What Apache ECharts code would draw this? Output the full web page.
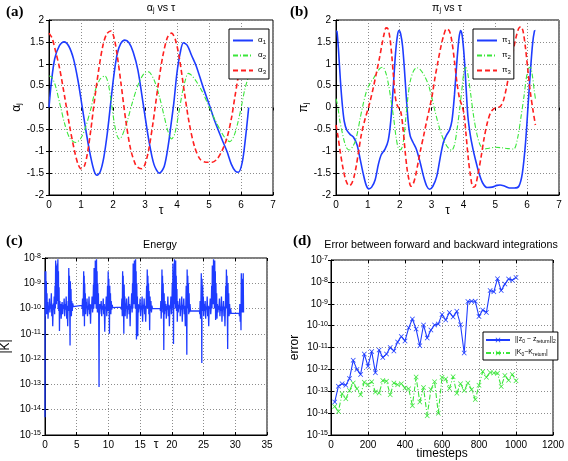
<!DOCTYPE html>
<html><head><meta charset="utf-8">
<script src="https://cdn.jsdelivr.net/npm/echarts/dist/echarts.min.js"></script>
<style>html,body{margin:0;padding:0;background:#fff}#c{width:568px;height:461px}</style>
</head><body><div id="c"></div>
<script>
// ---------- data ----------
const alpha1 = [[0,0],[0.07,0.55],[0.18,1.12],[0.33,1.42],[0.47,1.5],[0.62,1.4],[0.77,1.1],[0.91,0.6],[1.04,0],[1.17,-0.6],[1.3,-1.12],[1.41,-1.45],[1.5,-1.55],[1.6,-1.47],[1.71,-1.15],[1.82,-0.6],[1.92,0.05],[2.03,0.75],[2.13,1.22],[2.24,1.46],[2.37,1.54],[2.5,1.48],[2.63,1.27],[2.78,0.85],[2.95,0.05],[3.12,-0.75],[3.28,-1.3],[3.45,-1.5],[3.6,-1.35],[3.73,-0.85],[3.82,-0.35],[3.9,0.1],[4.0,0.8],[4.1,1.25],[4.2,1.48],[4.32,1.42],[4.45,1.2],[4.6,0.95],[4.8,0.5],[5.0,0.08],[5.2,-0.35],[5.4,-0.72],[5.56,-1.0],[5.7,-1.3],[5.82,-1.45],[5.92,-1.48],[6.04,-1.25],[6.14,-0.7],[6.24,0]];
const alpha2 = [[0,0.72],[0.08,0.7],[0.2,0.5],[0.35,0.05],[0.5,-0.4],[0.65,-0.7],[0.83,-0.8],[0.98,-0.72],[1.12,-0.5],[1.3,-0.05],[1.45,0.4],[1.6,0.65],[1.75,0.72],[1.85,0.55],[1.95,0.1],[2.05,-0.4],[2.13,-0.65],[2.2,-0.72],[2.3,-0.62],[2.45,-0.3],[2.6,0.1],[2.75,0.45],[2.9,0.7],[3.05,0.82],[3.15,0.8],[3.3,0.6],[3.45,0.25],[3.6,-0.2],[3.72,-0.55],[3.83,-0.72],[3.93,-0.6],[4.05,-0.15],[4.17,0.35],[4.27,0.65],[4.35,0.78],[4.45,0.74],[4.6,0.6],[4.8,0.35],[5.0,0.02],[5.2,-0.3],[5.4,-0.58],[5.55,-0.74],[5.65,-0.78],[5.78,-0.65],[5.9,-0.35],[6.02,0.05],[6.12,0.42],[6.24,0.72]];
const alpha3 = [[0,1.7],[0.1,1.58],[0.2,1.3],[0.33,0.9],[0.5,0.2],[0.65,-0.45],[0.8,-1.0],[0.9,-1.28],[1.0,-1.4],[1.1,-1.35],[1.2,-1.05],[1.3,-0.55],[1.42,0.15],[1.55,0.85],[1.68,1.4],[1.8,1.68],[1.93,1.75],[2.03,1.6],[2.13,1.2],[2.25,0.55],[2.4,-0.3],[2.55,-0.95],[2.7,-1.3],[2.8,-1.38],[2.9,-1.4],[3.0,-1.3],[3.12,-0.95],[3.25,-0.35],[3.4,0.45],[3.55,1.15],[3.7,1.6],[3.83,1.7],[3.95,1.55],[4.08,1.1],[4.22,0.4],[4.38,-0.35],[4.55,-0.9],[4.72,-1.18],[4.9,-1.25],[5.1,-1.25],[5.25,-1.18],[5.4,-1.0],[5.56,-0.7],[5.7,-0.25],[5.8,0.2],[5.9,0.65],[6.0,1.05],[6.12,1.45],[6.24,1.7]];
const pi1 = [[0,1.75],[0.03,1.74],[0.08,1.3],[0.14,0.6],[0.2,0.05],[0.26,-0.32],[0.34,-0.52],[0.45,-0.62],[0.55,-0.68],[0.66,-0.85],[0.75,-1.15],[0.85,-1.5],[0.95,-1.78],[1.03,-1.86],[1.12,-1.82],[1.23,-1.65],[1.33,-1.3],[1.42,-1.08],[1.54,-0.95],[1.64,-0.75],[1.72,-0.3],[1.8,0.5],[1.87,1.25],[1.93,1.65],[1.98,1.76],[2.03,1.68],[2.09,1.4],[2.15,0.85],[2.21,0.2],[2.27,-0.35],[2.33,-0.65],[2.42,-0.8],[2.52,-0.95],[2.64,-1.25],[2.75,-1.58],[2.85,-1.8],[2.94,-1.87],[3.04,-1.8],[3.16,-1.58],[3.27,-1.15],[3.37,-0.8],[3.47,-0.63],[3.56,-0.52],[3.64,-0.3],[3.72,0.3],[3.8,1.1],[3.86,1.58],[3.91,1.76],[3.96,1.65],[4.02,1.2],[4.08,0.5],[4.14,-0.2],[4.22,-0.65],[4.3,-0.95],[4.38,-1.2],[4.48,-1.48],[4.6,-1.72],[4.75,-1.83],[4.9,-1.82],[5.05,-1.78],[5.15,-1.77],[5.3,-1.8],[5.45,-1.84],[5.6,-1.84],[5.74,-1.8],[5.85,-1.5],[5.95,-0.8],[6.03,0.05],[6.1,0.8],[6.17,1.45],[6.23,1.75],[6.26,1.76]];
const pi2 = [[0,0.2],[0.05,0.05],[0.12,-0.3],[0.19,-0.55],[0.27,-0.8],[0.34,-0.93],[0.43,-0.97],[0.52,-0.9],[0.6,-0.78],[0.68,-0.55],[0.76,-0.24],[0.86,0.1],[0.97,0.4],[1.08,0.57],[1.18,0.67],[1.28,0.8],[1.39,0.9],[1.47,0.92],[1.56,0.8],[1.65,0.52],[1.73,0.15],[1.81,-0.24],[1.88,-0.65],[1.95,-0.92],[2.01,-0.97],[2.07,-0.92],[2.13,-0.7],[2.19,-0.25],[2.26,0.25],[2.33,0.6],[2.43,0.83],[2.53,0.91],[2.65,0.86],[2.78,0.72],[2.9,0.52],[3.0,0.25],[3.11,-0.09],[3.22,-0.4],[3.32,-0.63],[3.43,-0.82],[3.53,-0.93],[3.63,-0.98],[3.72,-0.85],[3.8,-0.5],[3.88,-0.05],[3.95,0.4],[4.01,0.78],[4.07,0.92],[4.13,0.8],[4.22,0.35],[4.32,-0.2],[4.42,-0.6],[4.52,-0.85],[4.64,-0.95],[4.8,-0.93],[5.0,-0.91],[5.2,-0.92],[5.4,-0.94],[5.58,-0.95],[5.7,-0.7],[5.8,-0.25],[5.9,0.25],[5.98,0.7],[6.05,0.9],[6.1,0.92],[6.17,0.7],[6.22,0.4],[6.26,0.2]];
const pi3 = [[0,-0.4],[0.06,-0.65],[0.13,-1.0],[0.21,-1.35],[0.29,-1.62],[0.36,-1.75],[0.42,-1.79],[0.49,-1.74],[0.56,-1.6],[0.64,-1.32],[0.71,-1.0],[0.8,-0.6],[0.92,-0.24],[1.0,-0.05],[1.07,0.14],[1.17,0.45],[1.28,0.83],[1.37,1.15],[1.44,1.43],[1.51,1.68],[1.57,1.82],[1.63,1.8],[1.69,1.6],[1.75,1.2],[1.8,0.75],[1.86,0.25],[1.92,0.05],[1.98,-0.02],[2.04,-0.12],[2.1,-0.45],[2.17,-1.0],[2.23,-1.4],[2.29,-1.65],[2.35,-1.8],[2.42,-1.75],[2.5,-1.55],[2.58,-1.25],[2.66,-0.95],[2.75,-0.65],[2.85,-0.3],[2.94,0.0],[3.02,0.28],[3.1,0.65],[3.2,1.05],[3.29,1.38],[3.37,1.62],[3.47,1.8],[3.56,1.75],[3.64,1.5],[3.72,1.05],[3.8,0.55],[3.88,0.2],[3.95,0.05],[4.02,-0.15],[4.08,-0.6],[4.15,-1.15],[4.22,-1.55],[4.3,-1.82],[4.37,-1.8],[4.45,-1.55],[4.55,-1.15],[4.65,-0.7],[4.75,-0.35],[4.85,-0.12],[4.95,-0.03],[5.05,0.0],[5.15,0.02],[5.25,0.15],[5.35,0.45],[5.45,0.85],[5.55,1.25],[5.65,1.6],[5.73,1.8],[5.8,1.85],[5.87,1.75],[5.95,1.35],[6.03,0.8],[6.1,0.35],[6.18,-0.05],[6.26,-0.4]];
const energy = [
[0,5e-15],[0.02,3e-9],[0.05,5e-11],[0.09,1.5e-10],[0.13,3e-9],[0.17,8e-11],[0.21,1.2e-9],[0.26,6e-11],[0.31,4e-10],[0.36,1e-10],[0.42,1.8e-10],[0.48,4e-11],[0.55,1.3e-10],[0.62,9e-11],[0.7,2.5e-10],[0.77,7e-11],[0.85,1.5e-10],[0.92,1e-10],[1.0,4e-10],[1.07,5e-11],[1.15,1.4e-10],[1.22,2e-11],[1.3,1.6e-10],[1.38,9e-11],[1.45,3e-10],[1.52,6e-11],[1.58,8e-10],[1.63,1e-10],[1.68,8e-9],[1.72,3e-10],[1.76,5e-9],[1.8,1.5e-10],[1.85,2e-9],[1.9,4e-10],[1.95,6e-9],[1.99,2e-10],[2.03,9e-9],[2.07,1e-10],[2.12,3e-9],[2.17,8e-11],[2.22,7e-10],[2.28,1.3e-11],[2.34,2e-10],[2.4,7e-11],[2.47,1.5e-10],[2.55,4e-11],[2.63,1.2e-10],[2.7,1.8e-10],[2.78,6e-11],[2.86,1.4e-10],[2.94,1e-10],[3.02,2.5e-10],[3.1,5e-11],[3.18,1.5e-10],[3.26,9e-11],[3.34,3e-10],[3.42,4e-11],[3.5,1.3e-10],[3.58,2e-11],[3.65,2e-10],[3.7,8e-11],[3.75,4e-9],[3.8,2e-10],[3.85,2e-9],[3.9,1e-10],[3.95,3.5e-12],[4.0,1.2e-9],[4.05,8e-11],[4.1,6e-10],[4.16,5e-11],[4.22,2e-10],[4.3,8e-11],[4.38,1.6e-10],[4.46,1.2e-10],[4.52,1.35e-10],[5.8,1.35e-10],
[5.86,1e-10],[5.92,2.5e-10],[5.98,5e-11],[6.04,1.5e-10],[6.1,3e-9],[6.14,1.5e-10],[6.18,2e-9],[6.22,2e-11],[6.26,1e-9],[6.3,1e-10],[6.35,4e-10],[6.41,6e-11],[6.48,1.8e-10],[6.55,1e-10],[6.63,2.5e-10],[6.7,5e-11],[6.78,1.3e-10],[6.86,9e-11],[6.94,3e-10],[7.02,6e-11],[7.1,1.5e-10],[7.18,2.5e-11],[7.26,1.4e-10],[7.34,1e-10],[7.42,3e-10],[7.5,7e-11],[7.57,1.2e-10],[7.64,9e-10],[7.69,1e-10],[7.74,4e-9],[7.78,2e-10],[7.83,2e-9],[7.88,1.5e-10],[7.93,8e-9],[7.97,3e-10],[8.02,5e-9],[8.07,1e-10],[8.12,9e-9],[8.16,2e-10],[8.21,3e-9],[8.26,7e-11],[8.31,1e-9],[8.36,1e-10],[8.42,4e-10],[8.47,6e-11],[8.52,8e-14],[8.57,1.5e-10],[8.63,6e-11],[8.7,1.5e-10],[8.78,1e-10],[8.86,2e-10],[8.94,5e-11],[9.02,1.3e-10],[9.1,9e-11],[9.18,2.5e-10],[9.26,6e-11],[9.34,1.5e-10],[9.42,1.2e-11],[9.5,1.2e-10],[9.58,1e-10],[9.66,3e-10],[9.74,5e-11],[9.8,1.3e-10],[9.86,8e-10],[9.91,8e-11],[9.96,3e-9],[10.01,2e-10],[10.06,1.5e-9],[10.11,1e-10],[10.16,1e-11],[10.21,8e-10],[10.26,8e-11],[10.32,4e-10],[10.38,6e-11],[10.44,2e-10],[10.52,9e-11],[10.6,1.4e-10],[10.68,1.1e-10],[10.74,1.15e-10],[12.0,1.15e-10],
[12.06,9e-11],[12.12,2.5e-10],[12.18,5e-11],[12.24,3e-9],[12.28,1.5e-10],[12.33,2e-9],[12.38,8e-11],[12.43,1e-11],[12.48,9e-10],[12.53,1e-10],[12.58,3e-10],[12.64,5e-11],[12.7,1.6e-10],[12.78,1e-10],[12.86,2.5e-10],[12.94,4e-11],[13.02,1.3e-10],[13.1,9e-11],[13.18,3e-10],[13.26,6e-11],[13.34,1.5e-10],[13.42,2e-11],[13.5,1.3e-10],[13.58,1e-10],[13.66,4e-10],[13.74,7e-11],[13.8,1e-9],[13.85,1e-10],[13.9,6e-9],[13.94,3e-10],[13.99,3e-9],[14.04,1.5e-10],[14.09,8e-9],[14.13,2e-10],[14.18,4e-9],[14.23,1e-10],[14.28,9e-9],[14.32,1.5e-10],[14.37,3e-9],[14.42,6e-12],[14.47,1e-9],[14.52,8e-11],[14.57,3e-10],[14.62,8e-12],[14.68,1.5e-10],[14.75,7e-11],[14.83,1.4e-10],[14.91,1e-10],[14.99,2.5e-10],[15.07,5e-11],[15.15,1.3e-10],[15.23,9e-11],[15.31,3e-10],[15.39,3e-11],[15.47,1.4e-10],[15.55,1e-10],[15.63,2.5e-10],[15.71,6e-11],[15.79,1.3e-10],[15.87,3e-11],[15.95,1.2e-10],[16.02,8e-10],[16.07,1e-10],[16.12,3.5e-9],[16.17,2e-10],[16.22,2e-9],[16.27,1e-10],[16.32,1e-9],[16.37,6e-11],[16.42,5e-10],[16.5,1.4e-11],[16.56,3e-10],[16.62,8e-11],[16.7,2e-10],[16.78,7e-11],[16.86,1.3e-10],[16.94,1e-10],[17.0,1.05e-10],[18.15,1e-10],
[18.2,8e-11],[18.26,2e-10],[18.32,4e-11],[18.38,1.5e-10],[18.44,3.5e-9],[18.48,1.5e-10],[18.53,2e-9],[18.58,7e-11],[18.63,1e-9],[18.68,1e-10],[18.73,2.3e-12],[18.78,4e-10],[18.84,6e-11],[18.9,2e-10],[18.97,8e-11],[19.05,1.5e-10],[19.13,4e-11],[19.21,1.3e-10],[19.29,9e-11],[19.37,3e-10],[19.45,5e-11],[19.53,1.4e-10],[19.61,2e-11],[19.69,1.3e-10],[19.77,1e-10],[19.85,3e-10],[19.93,6e-11],[20.0,1.2e-10],[20.07,1e-9],[20.12,1e-10],[20.17,6e-9],[20.21,3e-10],[20.26,4e-12],[20.31,3e-9],[20.36,1.5e-10],[20.41,9e-9],[20.45,2e-10],[20.5,4e-9],[20.55,1e-10],[20.6,8e-9],[20.64,1.5e-10],[20.69,2e-9],[20.74,8e-11],[20.8,6e-10],[20.86,3e-11],[20.92,2e-10],[21.0,7e-11],[21.08,1.4e-10],[21.16,1e-10],[21.24,2.5e-10],[21.32,5e-11],[21.4,1.3e-10],[21.48,9e-11],[21.56,3e-10],[21.64,3e-11],[21.72,1.4e-10],[21.8,1e-10],[21.88,2.5e-10],[21.96,6e-11],[22.04,1.3e-10],[22.12,2e-11],[22.2,1.2e-10],[22.26,8e-10],[22.31,1e-10],[22.36,1.5e-12],[22.41,3.5e-9],[22.46,2e-10],[22.51,2e-9],[22.56,1e-10],[22.61,1e-9],[22.66,6e-11],[22.72,4e-10],[22.78,7e-11],[22.86,1.5e-10],[22.94,8e-11],[23.0,8e-11],[24.35,8e-11],
[24.4,6e-11],[24.46,2e-10],[24.52,4e-11],[24.58,1.3e-10],[24.64,2.5e-9],[24.68,1.2e-10],[24.72,7e-13],[24.76,1.5e-9],[24.81,8e-11],[24.86,8e-10],[24.91,1e-10],[24.96,3e-10],[25.02,5e-11],[25.09,1.5e-10],[25.17,8e-11],[25.25,2e-10],[25.33,4e-11],[25.41,1.2e-10],[25.49,9e-11],[25.57,3e-10],[25.65,5e-11],[25.73,1.3e-10],[25.81,2e-11],[25.89,1.2e-10],[25.97,1e-10],[26.05,2.5e-10],[26.13,6e-11],[26.21,1.2e-10],[26.28,8e-10],[26.33,1e-10],[26.38,5e-9],[26.42,2e-10],[26.47,2e-9],[26.52,1.5e-10],[26.57,9e-9],[26.61,3e-10],[26.66,4e-9],[26.71,1e-10],[26.76,8e-9],[26.8,1.5e-10],[26.85,3e-9],[26.9,3.5e-11],[26.95,1e-9],[27.0,8e-11],[27.06,4e-10],[27.12,4e-11],[27.18,1.5e-10],[27.26,7e-11],[27.34,1.3e-10],[27.42,9e-11],[27.5,2.5e-10],[27.58,5e-11],[27.66,1.2e-10],[27.74,8e-11],[27.82,3e-10],[27.9,3e-11],[27.98,1.2e-10],[28.06,9e-11],[28.14,2e-10],[28.22,5e-11],[28.3,1.2e-10],[28.37,2e-11],[28.44,1.1e-10],[28.5,8e-10],[28.55,1e-10],[28.6,3.5e-9],[28.65,2e-10],[28.7,2e-9],[28.75,8e-11],[28.8,2.5e-12],[28.85,1e-9],[28.9,7e-11],[28.96,4e-10],[29.02,5e-11],[29.1,1.5e-10],[29.18,6e-11],[29.26,1e-10],[29.35,6.5e-11],[30.6,6.5e-11],
[30.66,5e-11],[30.72,1.5e-10],[30.78,3e-11],[30.84,1.2e-10],[30.9,1.4e-11],[30.95,2.5e-9],[31.0,1.2e-10],[31.05,1.5e-9],[31.1,7e-11],[31.15,8e-10],[31.2,1e-10],[31.25,2.5e-9],[31.3,7e-11]];
const timesteps = [20,40,60,80,100,120,140,160,180,200,220,240,260,280,300,320,340,360,380,400,420,440,460,480,500,520,540,560,580,600,620,640,660,680,700,720,740,760,780,800,820,840,860,880,900,920,940,960,980,1000];
const errZ = [3.2e-14,1.7e-13,2.2e-13,1.9e-13,3.8e-13,2.6e-12,1e-12,5.9e-13,5e-12,1.4e-12,6.6e-12,7e-13,7.6e-12,3.5e-12,5e-12,1e-11,7e-12,1.8e-11,3.2e-11,2e-11,7.9e-11,2e-10,7e-11,1.2e-11,1.07e-10,2.7e-11,6.3e-11,1.07e-10,1.2e-10,3.2e-10,1.8e-10,4e-10,2.5e-10,4.5e-10,1.1e-10,5.6e-12,1.26e-9,1.3e-9,1.3e-9,2.6e-10,5.2e-10,4e-10,4e-9,3.5e-9,1.4e-8,4e-9,7.9e-9,1.35e-8,1.2e-8,1.6e-8];
const errK = [2e-14,1.2e-14,7.6e-14,4.6e-14,1.07e-13,2.4e-13,1.3e-13,7e-14,2.6e-13,2e-13,2.7e-13,9.3e-14,8.3e-14,3.1e-13,2.9e-13,7e-14,2.4e-13,2e-13,2.2e-13,1.4e-13,1.3e-13,2.2e-14,4.5e-13,3.2e-14,1.5e-13,7.6e-15,1.2e-13,2.7e-13,1e-14,4.4e-13,3.6e-13,1.35e-13,4.6e-13,8e-14,2.2e-13,1.07e-13,2.4e-13,1.2e-13,4.2e-14,1.9e-13,7.9e-13,4.4e-13,7.2e-13,6.9e-13,6.6e-13,1.66e-13,5.2e-13,3.2e-13,5.9e-13,3e-13];

// ---------- styling ----------
const FF = 'Liberation Sans, Arial, Helvetica, sans-serif';
const BLUE = '#1e3cff', GREEN = '#3be63b', RED = '#ff1f1f';
function subRichOf(big, small, pad) {
  return {
    a: {fontSize: big, fontFamily: FF, color: '#000', verticalAlign: 'top', lineHeight: big + 1},
    s: {fontSize: small, fontFamily: FF, color: '#000', verticalAlign: 'bottom', lineHeight: small, padding: [pad,0,0,0]}
  };
}
const expRich = {
  b: {fontSize: 10, fontFamily: FF, color: '#000', verticalAlign: 'bottom', lineHeight: 10, padding: [6,0,0,0]},
  e: {fontSize: 7, fontFamily: FF, color: '#000', verticalAlign: 'top', lineHeight: 7}
};
const nameRich = {
  a: {fontSize: 12, fontFamily: FF, color: '#000', verticalAlign: 'top', lineHeight: 12},
  s: {fontSize: 8, fontFamily: FF, color: '#000', verticalAlign: 'bottom', lineHeight: 8, padding: [7,0,0,0]}
};
function logFmt(v) { const e = Math.round(Math.log10(v)); return '{b|10}{e|' + e + '}'; }
const splitStyle = {show: true, lineStyle: {color: '#8c8c8c', type: [1, 2], width: 1}};
const tickStyle = {show: true, inside: true, length: 3, lineStyle: {color: '#000'}};
const lineStyleAx = {show: true, onZero: false, lineStyle: {color: '#000', width: 1}};
function mainX(gi, extra) {
  return Object.assign({type: 'value', gridIndex: gi, position: 'bottom', nameLocation: 'middle', nameMoveOverlap: false,
    nameTextStyle: {fontSize: 12, fontFamily: FF, color: '#000'},
    axisLine: lineStyleAx, axisTick: tickStyle,
    axisLabel: {fontSize: 10, fontFamily: FF, color: '#000', margin: 5, formatter: v => String(v)},
    splitLine: splitStyle}, extra);
}
function mainY(gi, extra) {
  return Object.assign({type: 'value', gridIndex: gi, position: 'left', nameLocation: 'middle', nameRotate: 90,
    nameTextStyle: {fontSize: 12, fontFamily: FF, color: '#000', rich: nameRich},
    axisLine: lineStyleAx, axisTick: tickStyle,
    axisLabel: {fontSize: 10, fontFamily: FF, color: '#000', margin: 5},
    splitLine: splitStyle}, extra);
}
function mirror(ax, pos) {
  return Object.assign({}, ax, {position: pos, name: '', axisLabel: {show: false}, splitLine: {show: false}, axisLine: {show: false}});
}
const xa = mainX(0, {min: 0, max: 7, interval: 1, name: 'τ', nameGap: 10});
const xb = mainX(1, {min: 0, max: 7, interval: 1, name: 'τ', nameGap: 10});
const xc = mainX(2, {min: 0, max: 35, interval: 5, name: 'τ', nameGap: 4});
const xd = mainX(3, {min: 0, max: 1200, interval: 200, name: 'timesteps', nameGap: 13});
const ya = mainY(0, {min: -2, max: 2, interval: 0.5, name: '{a|α}{s|j}', nameGap: 26});
const yb = mainY(1, {min: -2, max: 2, interval: 0.5, name: '{a|π}{s|j}', nameGap: 26});
const yc = mainY(2, {type: 'log', logBase: 10, min: 1e-15, max: 1e-8, splitNumber: 7, name: '|K|', nameGap: 33,
  axisLabel: {formatter: logFmt, rich: expRich, margin: 4}});
const yd = mainY(3, {type: 'log', logBase: 10, min: 1e-15, max: 1e-7, splitNumber: 8, name: 'error', nameGap: 30,
  axisLabel: {formatter: logFmt, rich: expRich, margin: 3}});

const XSYM = 'path://M0,1L1,0L5,4L9,0L10,1L6,5L10,9L9,10L5,6L1,10L0,9L4,5Z';
const zData = timesteps.map((t, i) => [t, errZ[i]]);
const kData = timesteps.map((t, i) => [t, errK[i]]);

const legendNames = {
  'α1': '{a|α}{s|1}', 'α2': '{a|α}{s|2}', 'α3': '{a|α}{s|3}',
  'π1': '{a|π}{s|1}', 'π2': '{a|π}{s|2}', 'π3': '{a|π}{s|3}',
  'zerr': '{a|||z}{s|0}{a| − z}{s|return}{a|||}{s|2}',
  'kerr': '{a||K}{s|0}{a|−K}{s|return}{a||}'
};
function legendBase(extra, rich, fs) {
  return Object.assign({show: true, orient: 'vertical', backgroundColor: '#fff', borderColor: '#000', borderWidth: 1,
    borderRadius: 0, selectedMode: false, itemWidth: 20, itemHeight: 8, itemGap: 4, padding: [5, 3, 4, 3],
    itemStyle: {opacity: 0},
    textStyle: {fontSize: fs, fontFamily: FF, color: '#000', rich: rich},
    formatter: n => legendNames[n], z: 10}, extra);
}

function title(text, x, y) {
  return {type: 'text', x: x, y: y, z: 100, style: {text: text, align: 'center', verticalAlign: 'top',
    fontSize: 10.7, fontFamily: FF, fill: '#000',
    rich: {a: {fontSize: 10.7, fontFamily: FF, verticalAlign: 'top', lineHeight: 11},
           s: {fontSize: 7, fontFamily: FF, verticalAlign: 'bottom', lineHeight: 7, padding: [6,0,0,0]}}}};
}
function tag(text, x, y) {
  return {type: 'text', x: x, y: y, z: 100, style: {text: text, fontSize: 15, fontWeight: 'bold',
    fontFamily: 'Liberation Serif, Times New Roman, serif', fill: '#000'}};
}

const chart = echarts.init(document.getElementById('c'), null, {renderer: 'canvas'});
chart.setOption({
  animation: false,
  backgroundColor: '#fff',
  grid: [
    {left: 49, top: 20, width: 224, height: 175},
    {left: 336, top: 20, width: 223, height: 175},
    {left: 45, top: 258, width: 222, height: 177},
    {left: 331, top: 260, width: 222, height: 175}
  ].map(g => Object.assign(g, {show: true, borderColor: '#000', borderWidth: 1, backgroundColor: '#fff', containLabel: false, outerBoundsMode: 'none'})),
  xAxis: [xa, xb, xc, xd, mirror(xa, 'top'), mirror(xb, 'top'), mirror(xc, 'top'), mirror(xd, 'top')],
  yAxis: [ya, yb, yc, yd, mirror(ya, 'right'), mirror(yb, 'right'), mirror(yc, 'right'), mirror(yd, 'right')],
  legend: [
    legendBase({data: ['α1', 'α2', 'α3'], left: 229, top: 29}, subRichOf(8, 6, 5), 8),
    legendBase({data: ['π1', 'π2', 'π3'], left: 473, top: 29}, subRichOf(8, 6, 5), 8),
    legendBase({data: ['zerr', 'kerr'], left: 483, top: 332, itemWidth: 24, itemHeight: 6, itemGap: 4, padding: [3, 2, 3, 2],
      itemStyle: {}}, subRichOf(7, 5, 4), 7)
  ],
  graphic: [
    title('{a|α}{s|j}{a| vs τ}', 161, 3),
    title('{a|π}{s|j}{a| vs τ}', 447, 3),
    title('Energy', 160, 240),
    title('Error between forward and backward integrations', 441, 240),
    tag('(a)', 6, 5), tag('(b)', 290, 5), tag('(c)', 6, 234), tag('(d)', 293, 234)
  ],
  series: [
    {name: 'α1', type: 'line', xAxisIndex: 0, yAxisIndex: 0, data: alpha1, symbol: 'none', smooth: 0.3,
      lineStyle: {color: BLUE, width: 1.6}, itemStyle: {color: BLUE}},
    {name: 'α2', type: 'line', xAxisIndex: 0, yAxisIndex: 0, data: alpha2, symbol: 'none', smooth: 0.3,
      lineStyle: {color: GREEN, width: 1.1, type: [5, 2, 1, 2]}, itemStyle: {color: GREEN}},
    {name: 'α3', type: 'line', xAxisIndex: 0, yAxisIndex: 0, data: alpha3, symbol: 'none', smooth: 0.3,
      lineStyle: {color: RED, width: 1.6, type: [5, 3]}, itemStyle: {color: RED}},
    {name: 'π1', type: 'line', xAxisIndex: 1, yAxisIndex: 1, data: pi1, symbol: 'none', smooth: 0.3,
      lineStyle: {color: BLUE, width: 1.6}, itemStyle: {color: BLUE}},
    {name: 'π2', type: 'line', xAxisIndex: 1, yAxisIndex: 1, data: pi2, symbol: 'none', smooth: 0.3,
      lineStyle: {color: GREEN, width: 1.1, type: [5, 2, 1, 2]}, itemStyle: {color: GREEN}},
    {name: 'π3', type: 'line', xAxisIndex: 1, yAxisIndex: 1, data: pi3, symbol: 'none', smooth: 0.3,
      lineStyle: {color: RED, width: 1.6, type: [5, 3]}, itemStyle: {color: RED}},
    {name: 'energy', type: 'line', xAxisIndex: 2, yAxisIndex: 2, data: energy, symbol: 'none',
      lineStyle: {color: BLUE, width: 1.3}, itemStyle: {color: BLUE}},
    {name: 'zerr', type: 'line', xAxisIndex: 3, yAxisIndex: 3, data: zData, symbol: XSYM, symbolSize: 5,
      lineStyle: {color: BLUE, width: 1.1}, itemStyle: {color: BLUE}},
    {name: 'kerr', type: 'line', xAxisIndex: 3, yAxisIndex: 3, data: kData, symbol: XSYM, symbolSize: 5,
      lineStyle: {color: GREEN, width: 1.1, type: [5, 2, 1, 2]}, itemStyle: {color: GREEN}}
  ]
});
</script></body></html>
